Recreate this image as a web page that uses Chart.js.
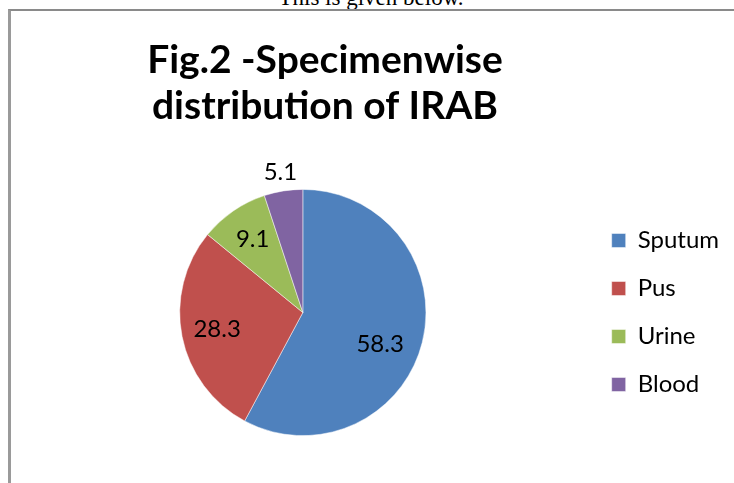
<!DOCTYPE html>
<html>
<head>
<meta charset="utf-8">
<script src="https://cdn.jsdelivr.net/npm/chart.js@4/dist/chart.umd.min.js"></script>
<style>
  html, body { margin: 0; padding: 0; background: #fff; }
  body { width: 734px; height: 483px; position: relative; overflow: hidden; }
  #above {
    position: absolute; left: 0; width: 734px; top: -15px;
    text-align: center; font: 23px "Liberation Serif", serif; color: #000;
    padding-left: 4px;
  }
  #frame {
    position: absolute; left: 8px; top: 9px; width: 800px; height: 600px;
    border-top: 2px solid #8a8a8a; border-left: 3px solid #9a9a9a;
  }
  #wrap { position: absolute; left: 0; top: 0; width: 734px; height: 483px; }
</style>
</head>
<body>
<div id="above">This is given below.</div>
<div id="frame"></div>
<div id="wrap"><canvas id="pieChart"></canvas></div>
<script>
// chart data
const specimens = ['Sputum', 'Pus', 'Urine', 'Blood'];
const percentages = [58.3, 28.3, 9.1, 5.1];
const sliceColors = ['#4F81BD', '#C0504D', '#9BBB59', '#8064A2'];
const titleLines = ['Fig.2 -Specimenwise', 'distribution of IRAB'];

// Excel-like title, centred over the plot rather than the canvas
const titlePlugin = {
  id: 'excelTitle',
  afterDraw(chart, args, opts) {
    const ctx = chart.ctx;
    ctx.save();
    ctx.font = 'bold 39px Lato, "Open Sans", sans-serif';
    ctx.fillStyle = '#000';
    ctx.textAlign = 'center';
    ctx.textBaseline = 'alphabetic';
    opts.lines.forEach((line, i) => {
      ctx.fillText(line, opts.x, opts.y + i * opts.lineGap);
    });
    ctx.restore();
  }
};

// value labels placed relative to each arc
const sliceLabels = {
  id: 'sliceLabels',
  afterDatasetsDraw(chart, args, opts) {
    const ctx = chart.ctx;
    const meta = chart.getDatasetMeta(0);
    ctx.save();
    ctx.font = '24px Lato, "Open Sans", sans-serif';
    ctx.fillStyle = '#000';
    ctx.textAlign = 'center';
    ctx.textBaseline = 'middle';
    meta.data.forEach((arc, i) => {
      const p = arc.getProps(['x', 'y', 'startAngle', 'endAngle', 'outerRadius'], true);
      const mid = (p.startAngle + p.endAngle) / 2 + (opts.shift[i] || 0) * Math.PI / 180;
      const r = p.outerRadius * opts.radius[i];
      ctx.fillText(String(chart.data.datasets[0].data[i]), p.x + Math.cos(mid) * r, p.y + Math.sin(mid) * r);
    });
    ctx.restore();
  }
};

new Chart(document.getElementById('pieChart'), {
  type: 'pie',
  data: {
    labels: specimens,
    datasets: [{
      data: percentages,
      backgroundColor: sliceColors,
      borderColor: 'rgba(255,255,255,0.6)',
      borderWidth: 0.8
    }]
  },
  options: {
    responsive: true,
    maintainAspectRatio: false,
    animation: false,
    layout: { padding: { left: 18, right: 5, top: 189, bottom: 47 } },
    plugins: {
      title: { display: false },
      tooltip: { enabled: false },
      legend: {
        position: 'right',
        labels: {
          boxWidth: 14,
          boxHeight: 14,
          padding: 24,
          color: '#000',
          font: { family: 'Lato, "Open Sans", sans-serif', size: 24 }
        }
      },
      excelTitle: { lines: titleLines, x: 325, y: 73, lineGap: 46 },
      sliceLabels: { radius: [0.68, 0.71, 0.72, 1.15], shift: [8.5, 0, 0, 0] }
    }
  },
  plugins: [titlePlugin, sliceLabels]
});
</script>
</body>
</html>
